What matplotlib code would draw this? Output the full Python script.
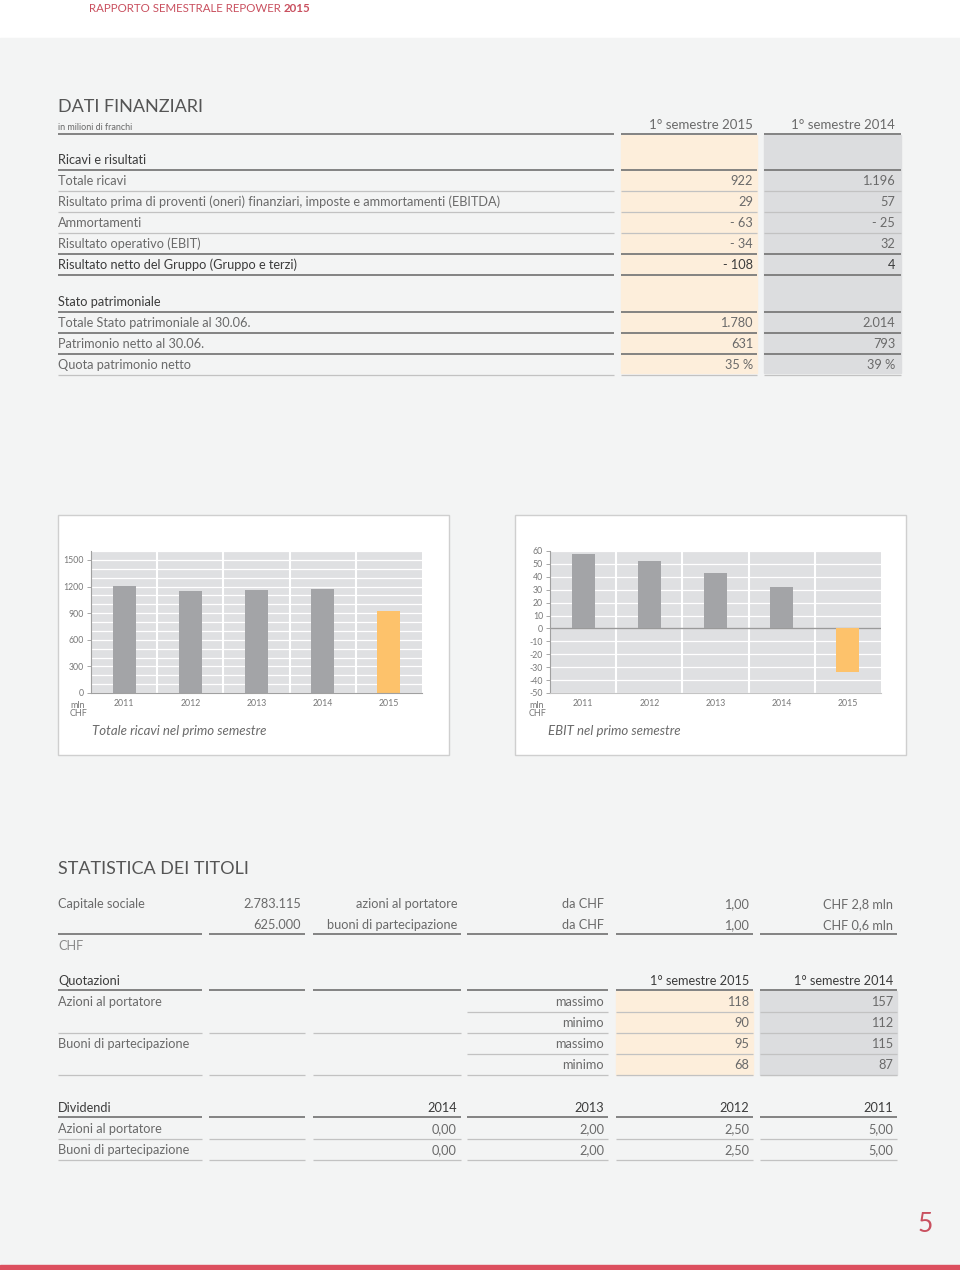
import matplotlib
matplotlib.use("Agg")
import matplotlib.pyplot as plt
from matplotlib.patches import Rectangle

plt.rcParams['font.family'] = ['Lato', 'DejaVu Sans']

# chart data
years = ['2011', '2012', '2013', '2014', '2015']
ricavi = [1210, 1150, 1165, 1175, 922]
ebit = [58, 52, 43, 32, -34]

# Dati finanziari
ric_labels = ['Ricavi e risultati', 'Totale ricavi',
              'Risultato prima di proventi (oneri) finanziari, imposte e ammortamenti (EBITDA)',
              'Ammortamenti', 'Risultato operativo (EBIT)',
              'Risultato netto del Gruppo (Gruppo e terzi)']
ric_2015 = ['', '922', '29', '- 63', '- 34', '- 108']
ric_2014 = ['', '1.196', '57', '- 25', '32', '4']
pat_labels = ['Stato patrimoniale', 'Totale Stato patrimoniale al 30.06.',
              'Patrimonio netto al 30.06.', 'Quota patrimonio netto']
pat_2015 = ['', '1.780', '631', '35 %']
pat_2014 = ['', '2.014', '793', '39 %']

# Statistica dei titoli
cap_row1 = ['Capitale sociale', '2.783.115', 'azioni al portatore', 'da CHF', '1,00', 'CHF 2,8 mln']
cap_row2 = ['', '625.000', 'buoni di partecipazione', 'da CHF', '1,00', 'CHF 0,6 mln']
quot_titles = ['Azioni al portatore', '', 'Buoni di partecipazione', '']
quot_kind = ['massimo', 'minimo', 'massimo', 'minimo']
quot_2015 = ['118', '90', '95', '68']
quot_2014 = ['157', '112', '115', '87']
div_years = ['2014', '2013', '2012', '2011']
div_azioni = ['0,00', '2,00', '2,50', '5,00']
div_buoni = ['0,00', '2,00', '2,50', '5,00']

W, H = 960, 1270
TXT = '#6a6a6a'
DARK = '#3c3c3c'
CREAM = '#fdeedb'
GREYCOL = '#dcdddf'
RED = '#c9505f'
GRID_BG = '#dfe0e2'
BAR = '#a3a4a7'
ORANGE = '#fdc26b'

fig = plt.figure(figsize=(9.6, 12.7), dpi=100)
fig.patch.set_facecolor('white')

page = fig.add_axes([0, 0, 1, 1])
page.set_xlim(0, W)
page.set_ylim(H, 0)
page.axis('off')

# page background
page.add_patch(Rectangle((0, 38), W, H - 38, color='#f3f4f4', zorder=0))
page.add_patch(Rectangle((0, 1265), W, 5, color='#dc4f5e', zorder=1))
hdr = page.text(89, 8, 'RAPPORTO SEMESTRALE REPOWER ', fontsize=8.3, color=RED, va='center')
page.annotate('2015', xy=(1, 0.5), xycoords=hdr, fontsize=8.3, color=RED,
              va='center', ha='left', fontweight='bold')
page.text(925, 1224, '5', fontsize=19, color=RED, va='center', ha='center')


def hline(x0, x1, y, strong):
    page.plot([x0, x1], [y, y], color='#7a7a7a' if strong else '#c2c2c2',
              lw=1.3 if strong else 0.9, solid_capstyle='butt', zorder=2)


# ---- DATI FINANZIARI ----
page.text(58, 107, 'DATI FINANZIARI', fontsize=13, color='#555555', va='center')
page.text(58, 127, 'in milioni di franchi', fontsize=6.5, color=TXT, va='center')
page.text(753, 125, '1° semestre 2015', fontsize=9.5, color=TXT, va='center', ha='right')
page.text(895, 125, '1° semestre 2014', fontsize=9.5, color=TXT, va='center', ha='right')

cols = [(58, 614), (621, 757), (764, 901)]
page.add_patch(Rectangle((621, 135), 136, 238, color=CREAM, zorder=1))
page.add_patch(Rectangle((764, 135), 137, 238, color=GREYCOL, zorder=1))
for x0, x1 in cols:
    hline(x0, x1, 134, True)

ric_strong = [True, False, False, False, True, True]
for i, lab in enumerate(ric_labels):
    y = 160 + 21 * i
    bold = i in (0, 5)
    c = DARK if bold else TXT
    page.text(58, y, lab, fontsize=9.2, color=c, va='center')
    page.text(753, y, ric_2015[i], fontsize=9.2, color=c, va='center', ha='right')
    page.text(895, y, ric_2014[i], fontsize=9.2, color=c, va='center', ha='right')
    for x0, x1 in cols:
        hline(x0, x1, y + 10, ric_strong[i])

pat_strong = [True, True, True, False]
for i, lab in enumerate(pat_labels):
    y = 302 + 21 * i
    c = DARK if i == 0 else TXT
    page.text(58, y, lab, fontsize=9.2, color=c, va='center')
    page.text(753, y, pat_2015[i], fontsize=9.2, color=c, va='center', ha='right')
    page.text(895, y, pat_2014[i], fontsize=9.2, color=c, va='center', ha='right')
    for x0, x1 in cols:
        hline(x0, x1, y + 10, pat_strong[i])

# ---- chart panels ----
page.add_patch(Rectangle((58, 515), 391, 240, facecolor='white', edgecolor='#cfcfcf', lw=1, zorder=1))
page.add_patch(Rectangle((515, 515), 391, 240, facecolor='white', edgecolor='#cfcfcf', lw=1, zorder=1))


def fig_rect(x0, y0, x1, y1):
    return [x0 / W, 1 - y1 / H, (x1 - x0) / W, (y1 - y0) / H]


def style_chart(ax, ylim, major, minor):
    ax.set_facecolor(GRID_BG)
    ax.set_xlim(-0.5, len(years) - 0.5)
    ax.set_ylim(*ylim)
    ax.set_yticks(major)
    ax.set_yticks(minor, minor=True)
    ax.set_yticklabels([str(v) for v in major])
    ax.set_xticks(range(len(years)))
    ax.set_xticklabels(years)
    ax.tick_params(axis='x', length=0, pad=4, labelsize=6.3, labelcolor='#777777')
    ax.tick_params(axis='y', which='major', length=3, width=0.6, color='#999999',
                   pad=2, labelsize=6.3, labelcolor='#777777')
    ax.tick_params(axis='y', which='minor', length=0)
    ax.grid(axis='y', which='both', color='white', lw=0.9, zorder=0)
    ax.set_axisbelow(True)
    for k in range(len(years) - 1):
        ax.axvline(k + 0.5, color='white', lw=1.5, zorder=0.5)
    for s in ['top', 'right']:
        ax.spines[s].set_visible(False)
    ax.spines['left'].set_color('#a0a0a0')
    ax.spines['left'].set_linewidth(0.8)
    ax.spines['bottom'].set_color('#a0a0a0')
    ax.spines['bottom'].set_linewidth(0.8)


colors = [BAR] * (len(years) - 1) + [ORANGE]

ax1 = fig.add_axes(fig_rect(91, 551, 422, 693))
style_chart(ax1, (0, 1600), list(range(0, 1501, 300)), list(range(0, 1601, 100)))
ax1.bar(range(len(years)), ricavi, width=0.35, color=colors, zorder=2)

ax2 = fig.add_axes(fig_rect(550, 551, 881, 693))
style_chart(ax2, (-50, 60), list(range(-50, 61, 10)), list(range(-50, 61, 10)))
ax2.bar(range(len(years)), ebit, width=0.35, color=colors, zorder=2)
ax2.axhline(0, color='#9a9a9a', lw=1, zorder=1.5)
ax2.spines['bottom'].set_color('#c4c4c4')

for xm, xt, title in [(70, 92, 'Totale ricavi nel primo semestre'),
                      (529, 548, 'EBIT nel primo semestre')]:
    page.text(xm, 705, 'mln', fontsize=6.5, color='#777777', va='center')
    page.text(xm, 713, 'CHF', fontsize=6.5, color='#777777', va='center')
    page.text(xt, 731, title, fontsize=9.5, color=TXT, va='center', style='italic')

# ---- STATISTICA DEI TITOLI ----
page.text(58, 869, 'STATISTICA DEI TITOLI', fontsize=13, color='#555555', va='center')
scols = [(58, 202), (209, 305), (313, 461), (467, 608), (616, 753), (760, 897)]


def row_text(y, vals, color=TXT):
    for j, v in enumerate(vals):
        if j == 0:
            page.text(58, y, v, fontsize=9.2, color=color, va='center')
        else:
            page.text(scols[j][1] - 4, y, v, fontsize=9.2, color=color, va='center', ha='right')


row_text(904, cap_row1)
row_text(925, cap_row2)
for x0, x1 in scols:
    hline(x0, x1, 934, True)
page.text(58, 946, 'CHF', fontsize=9.2, color='#8a8a8a', va='center')

# Quotazioni
page.add_patch(Rectangle((616, 991), 137, 84, color=CREAM, zorder=1))
page.add_patch(Rectangle((760, 991), 137, 84, color=GREYCOL, zorder=1))
row_text(981, ['Quotazioni', '', '', '', '1° semestre 2015', '1° semestre 2014'], DARK)
for x0, x1 in scols:
    hline(x0, x1, 990, True)
for i in range(len(quot_kind)):
    y = 1002 + 21 * i
    row_text(y, [quot_titles[i], '', '', quot_kind[i], quot_2015[i], quot_2014[i]])
    line_cols = scols[3:] if i % 2 == 0 else scols
    for x0, x1 in line_cols:
        hline(x0, x1, y + 10, False)

# Dividendi
row_text(1108, ['Dividendi', ''] + div_years, DARK)
for x0, x1 in scols:
    hline(x0, x1, 1117, True)
row_text(1129, ['Azioni al portatore', ''] + div_azioni)
row_text(1150, ['Buoni di partecipazione', ''] + div_buoni)
for y in (1139, 1160):
    for x0, x1 in scols:
        hline(x0, x1, y, False)

fig.savefig('out.png', dpi=100, facecolor=fig.get_facecolor())
